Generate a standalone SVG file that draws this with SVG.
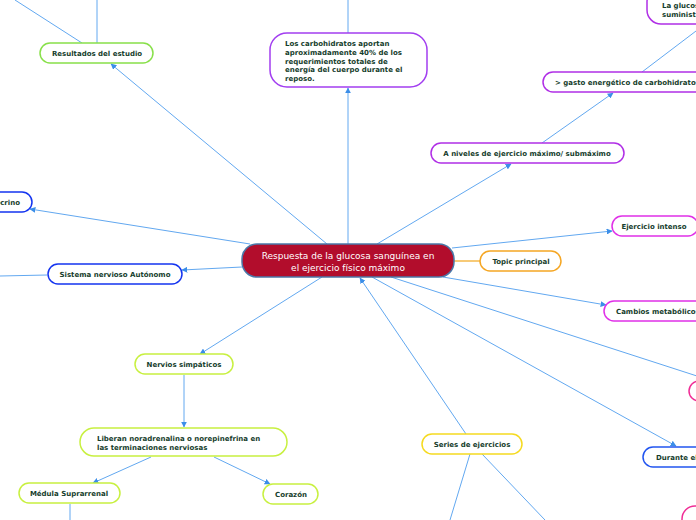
<svg xmlns="http://www.w3.org/2000/svg" width="696" height="520" viewBox="0 0 696 520">
<defs>
<marker id="ah" viewBox="0 0 10 10" refX="9" refY="5" markerWidth="6" markerHeight="6" orient="auto" markerUnits="userSpaceOnUse">
<path d="M0,0 L10,5 L0,10 z" fill="#3b8ee8"/>
</marker>
<style>
.c{stroke:#62a8f0;stroke-width:1;fill:none}
.n{fill:#fff;stroke-width:1.5}
.t{font-family:"DejaVu Sans",Verdana,sans-serif;font-weight:bold;font-size:7px;fill:#163d2c}
.m{text-anchor:middle}
.g{stroke:#88e04a}.p{stroke:#a23ef0}.v{stroke:#b02fe6}.b{stroke:#1434f0}.y{stroke:#c8f040}.yy{stroke:#f5da20}.mg{stroke:#e030e8}.pk{stroke:#f02e96}.bl{stroke:#2255f0}.o{stroke:#f5a623}
</style>
</defs>
<rect width="696" height="520" fill="#fff"/>
<g id="connectors">
<line class="c" x1="15" y1="0" x2="82" y2="43"/>
<line class="c" x1="97" y1="0" x2="97" y2="43"/>
<line class="c" x1="348" y1="0" x2="348" y2="33"/>
<line class="c" x1="327" y1="244" x2="111" y2="64" marker-end="url(#ah)"/>
<line class="c" x1="348" y1="244" x2="348" y2="88" marker-end="url(#ah)"/>
<line class="c" x1="377" y1="244" x2="511" y2="164" marker-end="url(#ah)"/>
<line class="c" x1="542" y1="143" x2="613" y2="93" marker-end="url(#ah)"/>
<line class="c" x1="642" y1="72" x2="700" y2="28"/>
<line class="c" x1="250" y1="244" x2="30" y2="209" marker-end="url(#ah)"/>
<line class="c" x1="242" y1="267" x2="182" y2="270" marker-end="url(#ah)"/>
<line class="c" x1="0" y1="276" x2="47" y2="275"/>
<line class="c" x1="322" y1="277" x2="200" y2="354" marker-end="url(#ah)"/>
<line class="c" x1="184" y1="375" x2="184" y2="427" marker-end="url(#ah)"/>
<line class="c" x1="151" y1="457" x2="93" y2="483" marker-end="url(#ah)"/>
<line class="c" x1="214" y1="457" x2="270" y2="484" marker-end="url(#ah)"/>
<line class="c" x1="70" y1="504" x2="70" y2="520"/>
<line class="c" x1="466" y1="434" x2="360" y2="278" marker-end="url(#ah)"/>
<line class="c" x1="470" y1="454" x2="450" y2="520"/>
<line class="c" x1="482" y1="454" x2="545" y2="520"/>
<line class="c" x1="452" y1="248" x2="612" y2="231" marker-end="url(#ah)"/>
<line class="c" x1="443" y1="277" x2="606" y2="305" marker-end="url(#ah)"/>
<line class="c" x1="391" y1="277" x2="700" y2="377"/>
<line class="c" x1="372" y1="277" x2="676" y2="446" marker-end="url(#ah)"/>
<line x1="454" y1="261" x2="480" y2="261" stroke="#f5b84a" stroke-width="1.5"/>
</g>
<g id="central">
<rect x="242" y="244" width="212" height="33" rx="15" fill="#b20d2c" stroke="#4b78a8" stroke-width="1.5"/>
<text x="348" y="259" text-anchor="middle" font-family="DejaVu Sans,Verdana,sans-serif" font-size="9" fill="#fff">Respuesta de la glucosa sanguínea en</text>
<text x="348" y="271" text-anchor="middle" font-family="DejaVu Sans,Verdana,sans-serif" font-size="9" fill="#fff">el ejercicio físico máximo</text>
</g>
<g id="topic-principal"><rect class="n o" x="480" y="251" width="81" height="20" rx="10"/><text class="t m" x="521" y="264">Topic principal</text></g>
<g id="resultados"><rect class="n g" x="40" y="43" width="113" height="20" rx="10"/><text class="t m" x="97" y="56">Resultados del estudio</text></g>
<g id="carbohidratos"><rect class="n p" x="270" y="33" width="157" height="54" rx="17"/>
<text class="t" x="285" y="46">Los carbohidratos aportan</text>
<text class="t" x="285" y="55">aproximadamente 40% de los</text>
<text class="t" x="285" y="63.5">requerimientos totales de</text>
<text class="t" x="285" y="72">energía del cuerpo durante el</text>
<text class="t" x="285" y="80.5">reposo.</text></g>
<g id="niveles"><rect class="n v" x="431" y="143" width="193" height="20" rx="10"/><text class="t m" x="527" y="156">A niveles de ejercicio máximo/ submáximo</text></g>
<g id="gasto"><rect class="n v" x="543" y="72" width="170" height="20" rx="10"/><text class="t" x="555" y="85">&gt; gasto energético de carbohidratos</text></g>
<g id="glucosa"><rect class="n v" x="647" y="-12" width="80" height="36" rx="14"/><text class="t" x="662" y="8">La glucosa</text><text class="t" x="662" y="17">suministrada</text></g>
<g id="endocrino"><rect class="n b" x="-40" y="192" width="72" height="20" rx="10"/><text class="t" x="20" y="205" text-anchor="end">Sistema endocrino</text></g>
<g id="autonomo"><rect class="n b" x="48" y="264" width="134" height="20" rx="10"/><text class="t m" x="115" y="277">Sistema nervioso Autónomo</text></g>
<g id="simpaticos"><rect class="n y" x="135" y="354" width="98" height="20" rx="10"/><text class="t m" x="184" y="367">Nervios simpáticos</text></g>
<g id="liberan"><rect class="n y" x="80" y="428" width="207" height="28" rx="14"/><text class="t" x="97" y="441">Liberan noradrenalina o norepinefrina en</text><text class="t" x="97" y="449.5">las terminaciones nerviosas</text></g>
<g id="medula"><rect class="n y" x="19" y="483" width="101" height="20" rx="10"/><text class="t m" x="69" y="496">Médula Suprarrenal</text></g>
<g id="corazon"><rect class="n y" x="263" y="484" width="55" height="20" rx="10"/><text class="t m" x="291" y="497">Corazón</text></g>
<g id="series"><rect class="n yy" x="422" y="434" width="100" height="20" rx="10"/><text class="t m" x="472" y="447">Series de ejercicios</text></g>
<g id="intenso"><rect class="n mg" x="612" y="216" width="86" height="20" rx="10"/><text class="t m" x="654" y="229">Ejercicio intenso</text></g>
<g id="cambios"><rect class="n mg" x="604" y="301" width="110" height="20" rx="10"/><text class="t" x="616" y="314">Cambios metabólicos</text></g>
<g id="pink1"><rect class="n pk" x="689" y="381" width="40" height="20" rx="10"/></g>
<g id="durante"><rect class="n bl" x="643" y="447" width="80" height="20" rx="10"/><text class="t" x="656" y="460">Durante el</text></g>
<g id="pink2"><rect class="n pk" x="682" y="506" width="40" height="30" rx="13"/></g>
</svg>
